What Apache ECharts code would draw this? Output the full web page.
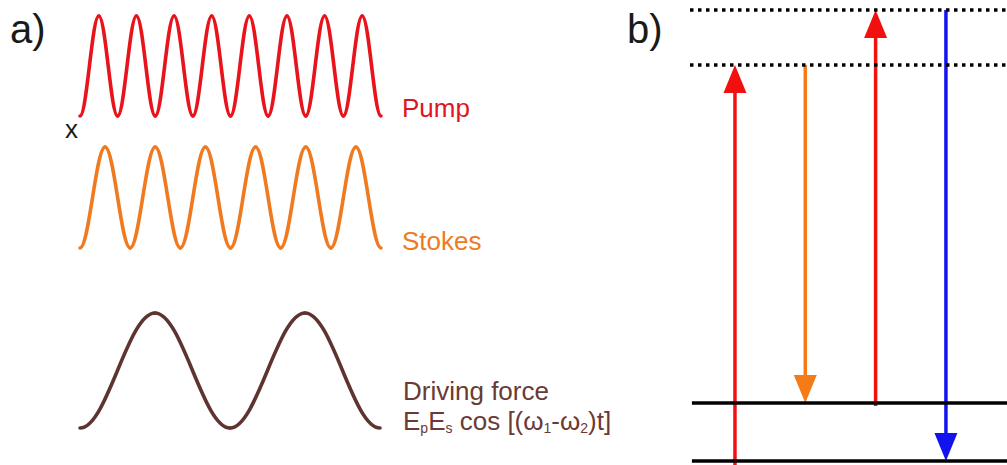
<!DOCTYPE html>
<html>
<head>
<meta charset="utf-8">
<script src="https://cdn.jsdelivr.net/npm/echarts@6/dist/echarts.min.js"></script>
<style>
html,body{margin:0;padding:0;background:#ffffff;}
#chart{width:1007px;height:465px;}
</style>
</head>
<body>
<div id="chart"></div>
<script>
// ---------- Panel a) : field oscillations (time in arbitrary units, crest/trough values) ----------
const pumpTime   = [0,1.5,3,4.5,6,7.5,9,10.5,12,13.5,15,16.5,18,19.5,21,22.5,24];
const pumpField  = [-1,1,-1,1,-1,1,-1,1,-1,1,-1,1,-1,1,-1,1,-1];
const stokesTime  = [0,2,4,6,8,10,12,14,16,18,20,22,24];
const stokesField = [-1,1,-1,1,-1,1,-1,1,-1,1,-1,1,-1];
const driveTime  = [0,6,12,18,24];
const driveField = [-1,1,-1,1,-1];
const waveNames  = ['Pump', 'Stokes', 'Driving force'];

// ---------- Panel b) : energy levels and transitions (energy in arbitrary units) ----------
const levelNames  = ['ground', 'vibrational', 'virtual 1', 'virtual 2'];
const levelEnergy = [0, 58, 396, 451];
const levelVirtual = [false, false, true, true];
const transitions    = ['Pump', 'Stokes', 'Probe', 'Anti-Stokes'];
const transitionFrom = [-4, 396, 55, 451];
const transitionTo   = [396, 58, 451, 0];

// ---------- styles ----------
const FONT = "'Liberation Sans', Arial, Helvetica, sans-serif";
const waveColors = ['#e8131b', '#f07a20', '#5e3431'];
const labelColors = ['#e0151d', '#ee7a24', '#6a3a35'];
const arrowColors = ['#f2100f', '#f67a16', '#f2100f', '#1313f2'];
const waveGrids = [
  {left: 80, width: 301, top: 16, height: 100},
  {left: 80, width: 301, top: 147, height: 101},
  {left: 80, width: 300, top: 313, height: 115}
];
const CP = 0.3634; // cubic-bezier handle ratio for a half cosine between crest and trough

const chart = echarts.init(document.getElementById('chart'), null, {renderer: 'svg'});

const grids = waveGrids.slice();
grids.push({left: 690, right: 0, top: 10, height: 455});            // energy levels
grids.push({left: 699.8, width: 281.3, top: 10, height: 455});       // transitions

const xAxes = [], yAxes = [];
for (let i = 0; i < 3; i++) {
  xAxes.push({type: 'value', gridIndex: i, min: 0, max: 24, show: false});
  yAxes.push({type: 'value', gridIndex: i, min: -1, max: 1, show: false});
}
xAxes.push({type: 'value', gridIndex: 3, min: 0, max: 1, show: false});
yAxes.push({type: 'value', gridIndex: 3, min: -4, max: 451, show: false});
xAxes.push({type: 'category', gridIndex: 4, data: transitions, boundaryGap: true, show: false});
yAxes.push({type: 'value', gridIndex: 4, min: -4, max: 451, show: false});

const series = [];
const waves = [[pumpTime, pumpField], [stokesTime, stokesField], [driveTime, driveField]];
waves.forEach(function (w, i) {
  const segs = [];
  for (let k = 0; k < w[0].length - 1; k++) {
    segs.push([w[0][k], w[1][k], w[0][k + 1], w[1][k + 1]]);
  }
  series.push({
    type: 'custom', name: waveNames[i], xAxisIndex: i, yAxisIndex: i,
    clip: false, silent: true, data: segs,
    renderItem: function (params, api) {
      const a = api.coord([api.value(0), api.value(1)]);
      const b = api.coord([api.value(2), api.value(3)]);
      const h = b[0] - a[0];
      return {
        type: 'bezierCurve',
        shape: {x1: a[0], y1: a[1], x2: b[0], y2: b[1],
                cpx1: a[0] + CP * h, cpy1: a[1], cpx2: b[0] - CP * h, cpy2: b[1]},
        style: {stroke: waveColors[i], lineWidth: 3.6, fill: null, lineCap: 'round'}
      };
    }
  });
});

levelEnergy.forEach(function (e, i) {
  series.push({
    type: 'line', name: levelNames[i], xAxisIndex: 3, yAxisIndex: 3,
    data: [[levelVirtual[i] ? 0 : 0.006, e], [1, e]],
    showSymbol: false, clip: false, silent: true,
    lineStyle: levelVirtual[i]
      ? {color: '#000000', width: 3.5, type: [3.5, 4.5]}
      : {color: '#000000', width: 3.5}
  });
});

series.push({
  type: 'custom', name: 'transitions', xAxisIndex: 4, yAxisIndex: 4, clip: false, silent: true,
  data: transitions.map(function (t, i) { return [i, transitionFrom[i], transitionTo[i]]; }),
  renderItem: function (params, api) {
    const i = api.value(0);
    const p0 = api.coord([i, api.value(1)]);
    const p1 = api.coord([i, api.value(2)]);
    const dir = p1[1] > p0[1] ? 1 : -1;
    const headLen = 28, headW = 23;
    const base = p1[1] - dir * headLen;
    const color = arrowColors[params.dataIndex];
    return {
      type: 'group',
      children: [
        {type: 'line', shape: {x1: p0[0], y1: p0[1], x2: p0[0], y2: base + dir * 2},
         style: {stroke: color, lineWidth: 3.5}},
        {type: 'polygon', shape: {points: [[p1[0], p1[1]], [p1[0] - headW / 2, base], [p1[0] + headW / 2, base]]},
         style: {fill: color}}
      ]
    };
  }
});

function label(text, x, baseline, size, color) {
  return {
    type: 'text', x: x, y: baseline - 0.35 * size, silent: true,
    style: {text: text, fontSize: size, fontFamily: FONT, fill: color, verticalAlign: 'middle', align: 'left'}
  };
}

const graphics = [
  label('a)', 10, 43, 40, '#1a1a1a'),
  label('b)', 627, 43, 40, '#1a1a1a'),
  label('x', 65, 138, 26, '#1a1a1a'),
  label(waveNames[0], 402, 117, 26, labelColors[0]),
  label(waveNames[1], 402, 250, 26, labelColors[1]),
  label(waveNames[2], 403, 400, 26, labelColors[2]),
  {
    type: 'text', x: 403, y: 428 - 0.35 * 26, silent: true,
    style: {
      text: '{m|E}{s|p}{m|E}{s|s}{m| cos [(ω}{s|1}{m|-ω}{s|2}{m|)t]}',
      fill: labelColors[2], verticalAlign: 'middle', align: 'left',
      rich: {
        m: {fontSize: 26, fontFamily: FONT, fill: labelColors[2], lineHeight: 30, verticalAlign: 'bottom'},
        s: {fontSize: 14, fontFamily: FONT, fill: labelColors[2], lineHeight: 14, verticalAlign: 'top', padding: [17, 0, 0, 0]}
      }
    }
  }
];

chart.setOption({
  animation: false,
  backgroundColor: '#ffffff',
  grid: grids,
  xAxis: xAxes,
  yAxis: yAxes,
  series: series,
  graphic: graphics
});
</script>
</body>
</html>
